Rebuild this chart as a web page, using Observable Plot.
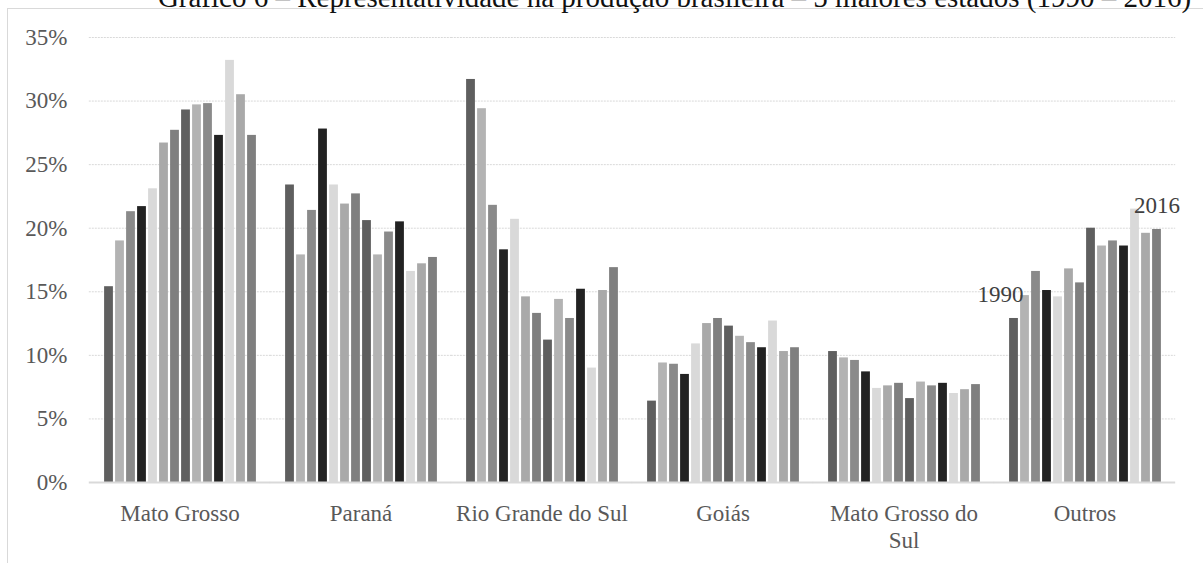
<!DOCTYPE html>
<html lang="pt-BR">
<head>
<meta charset="utf-8">
<script src="https://cdn.jsdelivr.net/npm/d3@7"></script>
<script src="https://cdn.jsdelivr.net/npm/@observablehq/plot@0.6"></script>
<style>
  html, body { margin: 0; padding: 0; background: #fff; overflow: hidden; }
  #wrap { position: relative; width: 1203px; height: 563px; overflow: hidden; }
  #frame { position: absolute; left: 7px; top: 8px; width: 1300px; height: 700px;
           border-left: 1px solid #d9d9d9; border-top: 1px solid #d9d9d9; box-sizing: border-box; }
  #title { position: absolute; left: 0; width: 1349px; top: -17px; text-align: center;
           font-family: "Liberation Serif", "Times New Roman", serif; font-size: 29px;
           line-height: 29px; color: #111; white-space: nowrap; }
  #chart { position: absolute; left: 0; top: 0; }
  #chart svg, #chart svg text { font-family: "Liberation Serif", "Times New Roman", serif !important; }
</style>
</head>
<body>
<div id="wrap">
  <div id="frame"></div>
  <div id="title">Gráfico 6 – Representatividade na produção brasileira – 5 maiores estados (1990 – 2016)</div>
  <div id="chart"></div>
</div>
<script>
// Participação de cada estado na produção brasileira (%), a cada dois anos
const states = ["Mato Grosso", "Paraná", "Rio Grande do Sul", "Goiás", "Mato Grosso do Sul", "Outros"];
const years = [1990, 1992, 1994, 1996, 1998, 2000, 2002, 2004, 2006, 2008, 2010, 2012, 2014, 2016];

const matoGrosso      = [15.4, 19.0, 21.3, 21.7, 23.1, 26.7, 27.7, 29.3, 29.7, 29.8, 27.3, 33.2, 30.5, 27.3];
const parana          = [23.4, 17.9, 21.4, 27.8, 23.4, 21.9, 22.7, 20.6, 17.9, 19.7, 20.5, 16.6, 17.2, 17.7];
const rioGrandeDoSul  = [31.7, 29.4, 21.8, 18.3, 20.7, 14.6, 13.3, 11.2, 14.4, 12.9, 15.2, 9.0, 15.1, 16.9];
const goias           = [6.4, 9.4, 9.3, 8.5, 10.9, 12.5, 12.9, 12.3, 11.5, 11.0, 10.6, 12.7, 10.3, 10.6];
const matoGrossoDoSul = [10.3, 9.8, 9.6, 8.7, 7.4, 7.6, 7.8, 6.6, 7.9, 7.6, 7.8, 7.0, 7.3, 7.7];
const outros          = [12.9, 14.7, 16.6, 15.1, 14.6, 16.8, 15.7, 20.0, 18.6, 19.0, 18.6, 21.5, 19.6, 19.9];

const yTicks = [0, 5, 10, 15, 20, 25, 30, 35];
const barColors = ["#5f5f5f", "#b3b3b3", "#8a8a8a", "#222222", "#d9d9d9", "#a9a9a9", "#7f7f7f"];

const series = [matoGrosso, parana, rioGrandeDoSul, goias, matoGrossoDoSul, outros];
const rows = states.flatMap((state, i) =>
  years.map((year, j) => ({state, year, value: series[i][j]}))
);

// Rótulos de ano sobre a primeira e a última barra de "Outros"
const outrosRows = rows.filter(d => d.state === "Outros");
const firstBar = [{...outrosRows[0], label: String(years[0])}];
const lastBar = [{...outrosRows[outrosRows.length - 1], label: String(years[years.length - 1])}];

// metade do espaço entre grupos, para as linhas de grade cruzarem os vãos
const halfGap = 10.2;
const serif = "'Liberation Serif', 'Times New Roman', serif";

const chart = Plot.plot({
  width: 1203,
  height: 563,
  marginLeft: 89,
  marginRight: 28,
  marginTop: 37,
  marginBottom: 81,
  style: {
    fontFamily: serif,
    fontSize: "23px",
    color: "#595959",
    background: "transparent"
  },
  fx: {domain: states, paddingInner: 0.112, paddingOuter: 0.056, label: null},
  x: {domain: years, padding: 0, axis: null},
  y: {domain: [0, 35], label: null},
  color: {type: "ordinal", domain: years, range: years.map((_, i) => barColors[i % barColors.length])},
  marks: [
    Plot.ruleY(yTicks.filter(t => t > 0), {
      stroke: "#d9d9d9", strokeWidth: 1, strokeDasharray: "2,1",
      insetLeft: -halfGap, insetRight: -halfGap
    }),
    // o eixo fica preso à primeira faceta; o afastamento inclui o meio vão externo
    Plot.axisY({ticks: yTicks, tickSize: 0, tickPadding: 22 + halfGap, tickFormat: d => d + "%", fontSize: 23, fontFamily: serif, label: null}),
    Plot.axisFx({
      anchor: "bottom", tickSize: 0, tickPadding: 19, fontSize: 23, fontFamily: serif, lineHeight: 1.17, label: null,
      tickFormat: d => d === "Mato Grosso do Sul" ? "Mato Grosso do\nSul" : d
    }),
    Plot.barY(rows, {fx: "state", x: "year", y: "value", fill: "year", insetLeft: 1.1, insetRight: 1.1}),
    Plot.ruleY([0], {stroke: "#d9d9d9", strokeWidth: 2, insetLeft: -halfGap, insetRight: -halfGap}),
    Plot.text(firstBar, {fx: "state", x: "year", y: "value", text: "label", dx: -13.5, dy: -23.4, fill: "#404040", fontSize: 23, fontFamily: serif}),
    Plot.text(lastBar, {fx: "state", x: "year", y: "value", text: "label", dy: -23.4, fill: "#404040", fontSize: 23, fontFamily: serif})
  ]
});

document.getElementById("chart").appendChild(chart);
</script>
</body>
</html>
